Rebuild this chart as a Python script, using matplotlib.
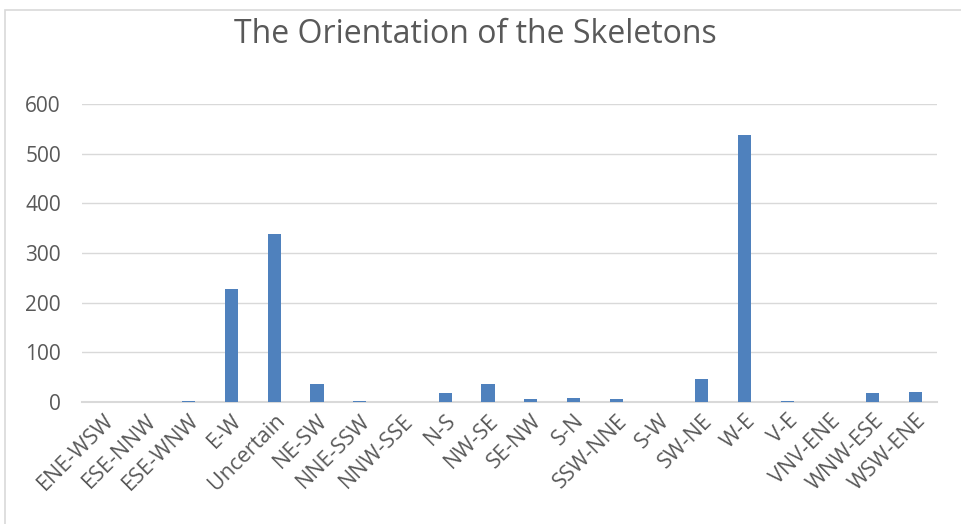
import matplotlib
matplotlib.use("Agg")
import matplotlib.pyplot as plt
from matplotlib.patches import Rectangle

categories = ["ENE-WSW", "ESE-NNW", "ESE-WNW", "E-W", "Uncertain", "NE-SW", "NNE-SSW",
              "NNW-SSE", "N-S", "NW-SE", "SE-NW", "S-N", "SSW-NNE", "S-W", "SW-NE",
              "W-E", "V-E", "VNV-ENE", "WNW-ESE", "WSW-ENE"]
values = [0, 0, 1, 228, 338, 37, 1, 0, 17, 36, 5, 7, 5, 0, 47, 539, 1, 0, 18, 19]
yticks = [0, 100, 200, 300, 400, 500, 600]

plt.rcParams['font.family'] = ['Open Sans', 'DejaVu Sans']
fig = plt.figure(figsize=(9.62, 5.24), dpi=100)
ax = fig.add_axes([0.085, 0.233, 0.889, 0.568])
x = range(len(categories))
ax.bar(x, values, width=0.31, color="#4F81BD", zorder=3)
ax.set_xlim(-0.5, len(categories) - 0.5)
ax.set_ylim(0, 600)
ax.set_yticks(yticks)
ax.set_yticklabels([str(t) for t in yticks], fontsize=15, color="#595959")
ax.set_xticks(list(x))
ax.set_xticklabels(categories, rotation=45, ha="right", rotation_mode="anchor",
                   fontsize=15.5, color="#595959")
ax.grid(axis="y", color="#D9D9D9", linewidth=1, zorder=0)
for s in ["top", "right", "left"]:
    ax.spines[s].set_visible(False)
ax.spines["bottom"].set_color("#D9D9D9")
ax.spines["bottom"].set_linewidth(1.5)
ax.tick_params(axis="y", length=0, pad=15)
ax.tick_params(axis="x", length=0, pad=6)
fig.text(0.494, 0.935, "The Orientation of the Skeletons", ha="center", va="center",
         fontsize=23, color="#595959")
fig.patches.append(Rectangle((5 / 962, -0.02), 1.0, 1.0105 + 0.0 - 5 / 524 + 0.0,
                             transform=fig.transFigure,
                             fill=False, edgecolor="#D9D9D9", linewidth=1.2))
fig.savefig("out.png", dpi=100)
